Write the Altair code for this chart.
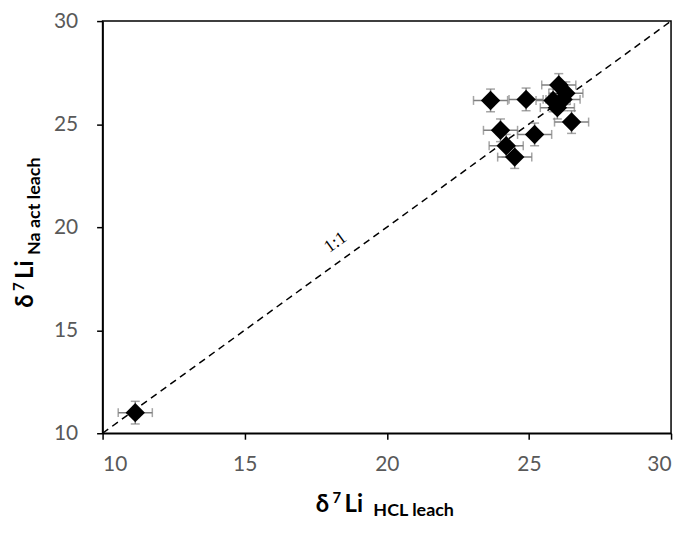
import altair as alt
import pandas as pd

# data
hcl = [11.15, 23.65, 24.9, 24.0, 24.2, 24.5, 25.2, 26.5, 25.85, 26.05, 26.3, 26.2, 26.0]
na = [11.0, 26.15, 26.2, 24.7, 23.95, 23.4, 24.5, 25.1, 26.15, 26.9, 26.5, 26.2, 25.8]
xerr = [0.6] * len(hcl)
yerr = [0.55] * len(hcl)
ticks = [10, 15, 20, 25, 30]
line_pts = [10, 30]

df = pd.DataFrame({"x": hcl, "y": na, "ex": xerr, "ey": yerr})
df["xlo"] = df.x - df.ex
df["xhi"] = df.x + df.ex
df["ylo"] = df.y - df.ey
df["yhi"] = df.y + df.ey

FONT = "Lato"
xs = alt.Scale(domain=[10, 30], nice=False)
ys = alt.Scale(domain=[10, 30], nice=False)
common = dict(values=ticks, title=None, grid=False, domainColor="black", tickColor="black",
              domainWidth=1.5, tickWidth=1.5, tickSize=6, labelFontSize=21, labelColor="#595959",
              labelFont=FONT)
xax = alt.Axis(labelPadding=14, **common)
yax = alt.Axis(labelPadding=19, **common)

base = alt.Chart(df)
GRAY = "#7f7f7f"

ref = alt.Chart(pd.DataFrame({"a": line_pts})).mark_line(
    color="black", strokeDash=[7, 5], strokeWidth=1.5
).encode(x=alt.X("a:Q", scale=xs, axis=xax), y=alt.Y("a:Q", scale=ys, axis=yax))

hbar = base.mark_rule(color=GRAY, strokeWidth=1.5).encode(
    x=alt.X("xlo:Q", scale=xs), x2="xhi:Q", y=alt.Y("y:Q", scale=ys))
vbar = base.mark_rule(color=GRAY, strokeWidth=1.5).encode(
    x=alt.X("x:Q", scale=xs), y=alt.Y("ylo:Q", scale=ys), y2="yhi:Q")
hcap1 = base.mark_tick(color=GRAY, orient="vertical", size=9, thickness=1.5).encode(
    x=alt.X("xlo:Q", scale=xs), y=alt.Y("y:Q", scale=ys))
hcap2 = base.mark_tick(color=GRAY, orient="vertical", size=9, thickness=1.5).encode(
    x=alt.X("xhi:Q", scale=xs), y=alt.Y("y:Q", scale=ys))
vcap1 = base.mark_tick(color=GRAY, orient="horizontal", size=9, thickness=1.5).encode(
    x=alt.X("x:Q", scale=xs), y=alt.Y("ylo:Q", scale=ys))
vcap2 = base.mark_tick(color=GRAY, orient="horizontal", size=9, thickness=1.5).encode(
    x=alt.X("x:Q", scale=xs), y=alt.Y("yhi:Q", scale=ys))

pts = base.mark_point(shape="diamond", filled=True, color="black", opacity=1, size=380).encode(
    x=alt.X("x:Q", scale=xs), y=alt.Y("y:Q", scale=ys))

lab = alt.Chart(pd.DataFrame({"x": [18.2], "y": [19.25], "t": ["1:1"]})).mark_text(
    angle=324, fontSize=18, font="Liberation Serif", color="black"
).encode(x=alt.X("x:Q", scale=xs), y=alt.Y("y:Q", scale=ys), text="t:N")


def piece(txt, x, y, size, angle=0):
    kw = dict(fontSize=size, fontWeight="bold", font=FONT, align="left",
              baseline="alphabetic", color="black")
    if angle:
        kw["angle"] = angle
    return alt.Chart(pd.DataFrame({"t": [txt]})).mark_text(**kw).encode(
        x=alt.value(x), y=alt.value(y), text="t:N")


# x-axis title: δ⁷Li with subscript
xt = [
    piece("δ", 214, 493, 24),
    piece("7", 231, 484, 15),
    piece("Li", 243, 493, 24),
    piece("HCL leach", 272, 497, 18),
]
# y-axis title, rotated
yt = [
    piece("δ", -70, 288, 24, 270),
    piece("7", -79, 271, 15, 270),
    piece("Li", -70, 259, 24, 270),
    piece("Na act leach", -63, 235, 18, 270),
]

chart = alt.layer(ref, hbar, vbar, hcap1, hcap2, vcap1, vcap2, pts, lab, *xt, *yt).properties(
    width=571, height=414,
    autosize=alt.AutoSizeParams(type="none"),
    padding={"left": 95, "top": 12, "right": 10, "bottom": 85},
).configure_view(stroke="black", strokeWidth=1.5)

chart.save("out.html", embed_options={"renderer": "svg", "actions": False})
